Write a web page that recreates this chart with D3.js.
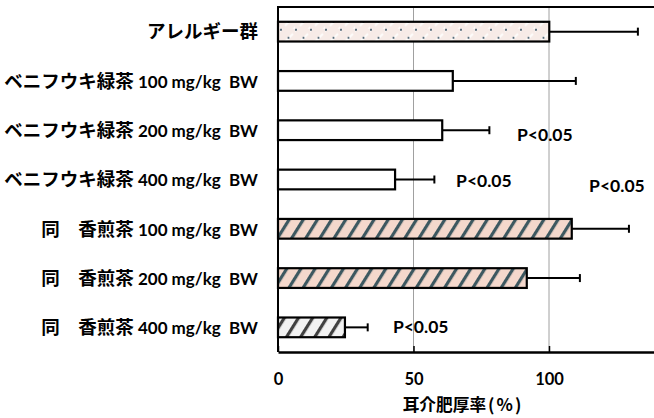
<!DOCTYPE html>
<html><head><meta charset="utf-8">
<script src="https://cdn.jsdelivr.net/npm/d3@7"></script>
<style>
html,body{margin:0;padding:0;background:#fff;}
svg{display:block;}
text{white-space:pre;}
</style></head>
<body>
<script>
// ---- data ----
const categoriesJa = ["アレルギー群","ベニフウキ緑茶","ベニフウキ緑茶","ベニフウキ緑茶","同　香煎茶","同　香煎茶","同　香煎茶"];
const categoriesDose = ["","100 mg/kg  BW","200 mg/kg  BW","400 mg/kg  BW","100 mg/kg  BW","200 mg/kg  BW","400 mg/kg  BW"];
const means  = [100.1, 64.5, 60.6, 43.2, 108.4, 91.8, 24.7];
const errors = [32.7, 45.4, 17.4, 14.5, 21.1, 19.6, 8.4];
const fills  = ["dots","white","white","white","hatchPink","hatchPink","hatchGray"];
const xTicks = [0, 50, 100];
const gridTicks = [50, 100];
const xTitleMain = "耳介肥厚率";
const xTitleUnit = "(%)";
const pLabels = [
  {text:"P<0.05", x:88.2, row:2, dy:11},
  {text:"P<0.05", x:65.7, row:3, dy:7},
  {text:"P<0.05", x:114.8, row:3, dy:12},
  {text:"P<0.05", x:42.4, row:6, dy:6}
];

// ---- layout ----
const W = 654, H = 418;
const mLeft = 278, mTop = 7, mBottom = 352;
const svg = d3.select("body").append("svg").attr("width", W).attr("height", H);
const defs = svg.append("defs");

const x = d3.scaleLinear().domain([0, 140]).range([mLeft, mLeft + 2.71*140]);
const idx = d3.range(categoriesJa.length);
const y = d3.scaleBand().domain(idx).range([mTop, mBottom]).paddingInner(0.6).paddingOuter(0.3);

// patterns
const pd = defs.append("pattern").attr("id","dots").attr("patternUnits","userSpaceOnUse")
  .attr("width",15).attr("height",16).attr("x", mLeft+2).attr("y", y(0)+7);
pd.append("rect").attr("width",15).attr("height",16).attr("fill","#f7ebe7");
pd.append("path").attr("d","M-2,4 L4,-2 M5,13 L13,5 M12,18 L18,12").attr("stroke","#ffffff").attr("stroke-width",2).attr("opacity",0.8);
pd.append("circle").attr("cx",1).attr("cy",1).attr("r",1.1).attr("fill","#4c6272");
pd.append("circle").attr("cx",8.5).attr("cy",9).attr("r",1.1).attr("fill","#4c6272");

function hatch(id, bg, fg){
  const p = defs.append("pattern").attr("id",id).attr("patternUnits","userSpaceOnUse")
    .attr("width",12).attr("height",12).attr("patternTransform","rotate(32)");
  p.append("rect").attr("width",12).attr("height",12).attr("fill",bg);
  p.append("rect").attr("x",0).attr("width",3.2).attr("height",12).attr("fill",fg);
}
hatch("hatchPink","#f4d8cc","#3d5860");
hatch("hatchGray","#f2f2f2","#404040");

const fillOf = f => f==="white" ? "#ffffff" : `url(#${f})`;

// gridlines
svg.append("g").selectAll("line").data(gridTicks).join("line")
  .attr("x1", d=>x(d)).attr("x2", d=>x(d)).attr("y1", mTop).attr("y2", mBottom)
  .attr("stroke","#a0a0a0").attr("stroke-width",1);

// bars
const bh = y.bandwidth();
svg.append("g").selectAll("rect").data(idx).join("rect")
  .attr("x", x(0)).attr("y", i=>y(i)).attr("width", i=>x(means[i])-x(0)).attr("height", bh)
  .attr("fill", i=>fillOf(fills[i])).attr("stroke","#000").attr("stroke-width",2.2);

// error bars
const eb = svg.append("g").attr("stroke","#000").attr("stroke-width",2);
eb.selectAll("line.e").data(idx).join("line").attr("class","e")
  .attr("x1", i=>x(means[i])).attr("x2", i=>x(means[i]+errors[i]))
  .attr("y1", i=>y(i)+bh/2).attr("y2", i=>y(i)+bh/2);
eb.selectAll("line.c").data(idx).join("line").attr("class","c")
  .attr("x1", i=>x(means[i]+errors[i])).attr("x2", i=>x(means[i]+errors[i]))
  .attr("y1", i=>y(i)+bh/2-4).attr("y2", i=>y(i)+bh/2+4);

// frame: top and left
svg.append("line").attr("x1", x(0)-1).attr("x2", x.range()[1]).attr("y1", mTop).attr("y2", mTop)
  .attr("stroke","#000").attr("stroke-width",2);
svg.append("line").attr("x1", x(0)).attr("x2", x(0)).attr("y1", mTop).attr("y2", mBottom)
  .attr("stroke","#000").attr("stroke-width",2);

// x axis
const xa = svg.append("g").attr("transform",`translate(0,${mBottom})`)
  .call(d3.axisBottom(x).tickValues(xTicks).tickSizeInner(-6).tickSizeOuter(0).tickPadding(22));
xa.select(".domain").attr("stroke","#000").attr("stroke-width",2.4);
xa.selectAll(".tick line").attr("stroke","#000").attr("stroke-width",1.5);
xa.selectAll(".tick text").attr("font-family","Lato").attr("font-weight","bold")
  .attr("font-size",16.5).attr("fill","#000").attr("dy",null).attr("y",33);

// x title
const tt = svg.append("text").attr("x", 463).attr("y", 411).attr("text-anchor","middle")
  .attr("font-family","Noto Sans CJK JP").attr("font-weight","bold").attr("font-size",16.7);
tt.append("tspan").text(xTitleMain);
tt.append("tspan").attr("dx",2).attr("letter-spacing",2).attr("font-size",17).text(xTitleUnit);

// category labels
const lab = svg.append("g").selectAll("text").data(idx).join("text")
  .attr("x", 258).attr("y", i=>y(i)+bh/2+6.8).attr("text-anchor","end");
lab.append("tspan").attr("font-family","Noto Sans CJK JP").attr("font-weight","bold").attr("font-size",18.5)
  .text(i=>categoriesJa[i]);
lab.append("tspan").attr("font-family","Lato").attr("font-weight","bold").attr("font-size",17)
  .text(i=>categoriesDose[i] ? " " + categoriesDose[i] : "");

// p labels
svg.append("g").selectAll("text").data(pLabels).join("text")
  .attr("x", d=>x(d.x)).attr("y", d=>y(d.row)+bh/2+d.dy)
  .attr("font-family","Lato").attr("font-weight","bold").attr("font-size",17.5)
  .text(d=>d.text);
</script>
</body></html>
